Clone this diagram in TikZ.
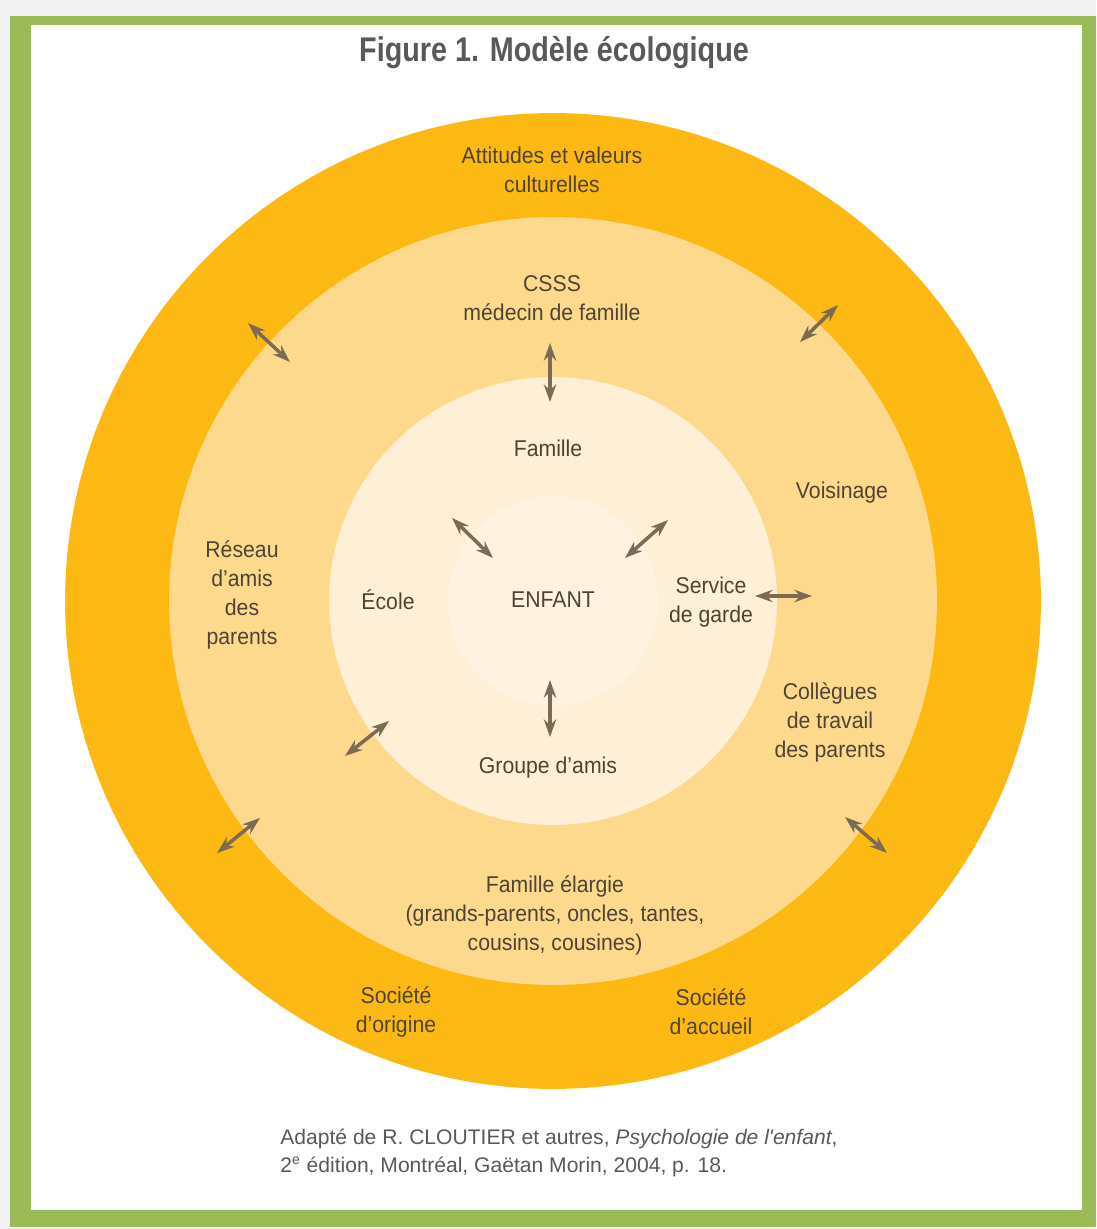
\documentclass[tikz,border=0pt]{standalone}
\usepackage{fontspec}
\setmainfont{Liberation Sans}[FakeStretch=0.93]
\newfontfamily\sourcefont{Liberation Sans}
\newfontfamily\titlefont{Liberation Sans}[FakeStretch=0.84]
\usepackage{tikz}
\usetikzlibrary{arrows.meta}
\definecolor{frameGreen}{HTML}{9BBB59}
\definecolor{bgGray}{HTML}{F2F2F2}
\definecolor{ringOuter}{HTML}{FDB913}
\definecolor{ringMid}{HTML}{FDD98E}
\definecolor{ringInner}{HTML}{FEF0D6}
\definecolor{ringCore}{HTML}{FEF3E1}
\definecolor{labelBrown}{HTML}{4F4434}
\definecolor{arrowBrown}{HTML}{7D6A52}
\definecolor{titleGray}{HTML}{58595B}

\tikzset{
  lbl/.style={text=labelBrown, align=center, inner sep=0pt,
    font=\fontsize{13}{16.5}\selectfont},
  link/.style={{Stealth[length=10pt,width=7pt]}-{Stealth[length=10pt,width=7pt]},
    line width=2pt, draw=arrowBrown}
}

\begin{document}
\begin{tikzpicture}[x=0.02cm, y=-0.02cm]

    \useasboundingbox (0,0) rectangle (1096,1229);

    % Frame
    \fill[bgGray] (0,0) rectangle (1096,1229);
    \fill[frameGreen] (10,16) rectangle (1096,1227);
    \fill[white] (31,25) rectangle (1082,1210);

    % Title
    \node[text=titleGray, font=\titlefont\fontsize{19.5}{22}\selectfont\bfseries] (title) at (554,53) {Figure 1. Modèle écologique};

    % Rings
    \coordinate (centre) at (553,601);
    \fill[ringOuter] (centre) circle[radius=9.76cm];
    \fill[ringMid] (centre) circle[radius=7.68cm];
    \fill[ringInner] (centre) circle[radius=4.48cm];
    \fill[ringCore] (centre) circle[radius=2.1cm];

    % Labels
    \node[lbl] (attitudes) at (552,170) {Attitudes et valeurs\\culturelles};
    \node[lbl] (csss) at (552,298) {CSSS\\médecin de famille};
    \node[lbl] (famille) at (548,448) {Famille};
    \node[lbl] (voisinage) at (842,493) {Voisinage};
    \node[lbl] (reseau) at (242,595) {Réseau\\d'amis\\des\\parents};
    \node[lbl] (ecole) at (388,600) {École};
    \node[lbl] (enfant) at (553,600) {ENFANT};
    \node[lbl] (garde) at (711,602) {Service\\de garde};
    \node[lbl] (collegues) at (830,722) {Collègues\\de travail\\des parents};
    \node[lbl] (groupe) at (548,768) {Groupe d'amis};
    \node[lbl] (elargie) at (555,915) {Famille élargie\\(grands-parents, oncles, tantes,\\cousins, cousines)};
    \node[lbl] (origine) at (396,1012) {Société\\d'origine};
    \node[lbl] (accueil) at (711,1012) {Société\\d'accueil};

    % Double arrows
    \foreach \name/\from/\to in {
        nw/{248,323}/{290,362},
        ne/{800,342}/{838,305},
        up/{550,343}/{550,402},
        inw/{452,518}/{493,558},
        ine/{625,558}/{668,520},
        right/{755,596}/{812,596},
        down/{550,680}/{550,737},
        isw/{345,756}/{389,721},
        sw/{217,853}/{260,818},
        se/{845,817}/{887,853}} {
        \coordinate (\name-a) at (\from);
        \coordinate (\name-b) at (\to);
        \draw[link] (\name-a) -- (\name-b);
    }

    % Source
    \node[anchor=west, align=left, text=titleGray, inner sep=0pt,
      font=\sourcefont\fontsize{12}{15.5}\selectfont] (source) at (280,1153)
      {Adapté de R. CLOUTIER et autres, \textit{Psychologie de l'enfant},\\
       2\textsuperscript{e} édition, Montréal, Gaëtan Morin, 2004, p. 18.};

\end{tikzpicture}
\end{document}
